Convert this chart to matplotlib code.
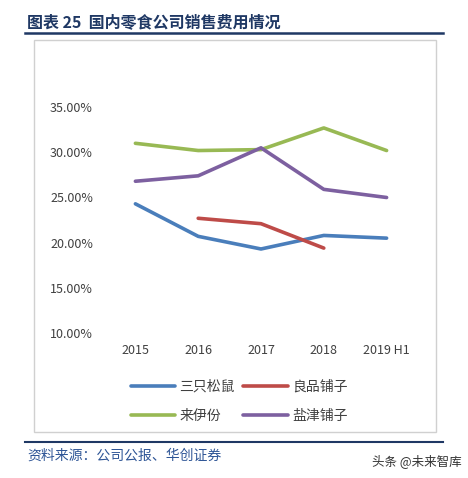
import matplotlib.pyplot as plt
from matplotlib.patches import Rectangle
from matplotlib.lines import Line2D

plt.rcParams['font.family'] = ['Noto Sans CJK SC', 'DejaVu Sans']

years = ['2015', '2016', '2017', '2018', '2019 H1']
songshu = [24.3, 20.7, 19.3, 20.8, 20.5]
liangpin = [None, 22.7, 22.1, 19.4, None]
laiyifen = [31.0, 30.2, 30.3, 32.7, 30.2]
yanjin = [26.8, 27.4, 30.5, 25.9, 25.0]
names = ['三只松鼠', '良品铺子', '来伊份', '盐津铺子']
colors = ['#4a7ebb', '#be4b48', '#98b954', '#7d60a0']
yticks = [10, 15, 20, 25, 30, 35]

fig = plt.figure(figsize=(4.68, 4.78), dpi=100)
W, H = 468, 478

def fx(x): return x / W
def fy(y): return 1 - y / H

# header
fig.text(fx(27), fy(22), '图表 25  国内零食公司销售费用情况', fontsize=11.5, fontweight='bold',
         color='#1f3864', va='center')
fig.add_artist(Line2D([fx(25), fx(443)], [fy(33), fy(33)], color='#1f3864', lw=1.8))
fig.add_artist(Rectangle((fx(34), fy(432)), fx(402), 392 / H, fill=False, ec='#d0d0d0', lw=1))

ax = fig.add_axes([fx(104), fy(333), fx(314), (333 - 62) / H])
x = range(len(years))
series = [songshu, liangpin, laiyifen, yanjin]
handles = []
for s, n, c in zip(series, names, colors):
    xs = [i for i, v in zip(x, s) if v is not None]
    ys = [v for v in s if v is not None]
    h, = ax.plot(xs, ys, color=c, lw=2.6, label=n, solid_capstyle='round')
    handles.append(h)
ax.set_xlim(-0.5, 4.5)
ax.set_ylim(10, 40)
ax.set_yticks(yticks)
ax.set_yticklabels([f'{v:.2f}%' for v in yticks])
ax.set_xticks(list(x))
ax.set_xticklabels(years)
ax.tick_params(length=0, labelsize=9, colors='#404040', pad=8)
for sp in ax.spines.values():
    sp.set_visible(False)

# row-wise order: matplotlib fills legend columns first
order = [0, 2, 1, 3]
ax.legend([handles[i] for i in order], [names[i] for i in order],
          loc='upper center', bbox_to_anchor=(0.43, -0.125), ncol=2, frameon=False,
          fontsize=10, handlelength=3.2, columnspacing=0.6, handletextpad=0.3,
          labelcolor='#404040', labelspacing=1.1)

fig.add_artist(Line2D([fx(25), fx(443)], [fy(442), fy(442)], color='#1f3864', lw=1.5))
fig.text(fx(27), fy(456), '资料来源：公司公报、华创证券', fontsize=10, style='italic',
         color='#2e5596', va='center')
fig.text(fx(372), fy(461), '头条 @未来智库', fontsize=9, color='#333333', va='center')

fig.savefig('out.png', dpi=100, facecolor='white')
